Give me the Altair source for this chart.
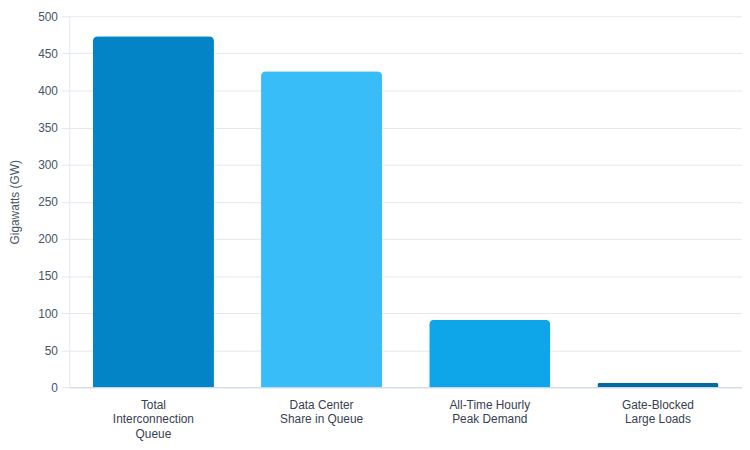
import altair as alt
import pandas as pd

categories = ["Total|Interconnection|Queue", "Data Center|Share in Queue", "All-Time Hourly|Peak Demand", "Gate-Blocked|Large Loads"]
values = [473, 426, 91, 6]
colors = ["#0284c7", "#38bdf8", "#0ea5e9", "#0369a1"]

df = pd.DataFrame({"category": categories, "value": values, "color": colors})

chart = alt.Chart(df).mark_bar(cornerRadiusTopLeft=5, cornerRadiusTopRight=5).encode(
    x=alt.X("category:N", sort=categories,
            scale=alt.Scale(paddingInner=0.28, paddingOuter=0.14),
            axis=alt.Axis(title=None, labelAngle=0, labelExpr="split(datum.label, '|')",
                          labelFont="Liberation Sans", labelFontSize=12, labelColor="#374151",
                          labelPadding=12, ticks=False, domainColor="#cbd5e1", grid=False,
                          labelLineHeight=15, labelOverlap=False)),
    y=alt.Y("value:Q", scale=alt.Scale(domain=[0, 500]),
            axis=alt.Axis(title="Gigawatts (GW)", titleFont="Liberation Sans", titleFontSize=12,
                          titleFontWeight="normal", titleColor="#475569",
                          labelFont="Liberation Sans", labelFontSize=12, labelColor="#475569",
                          values=list(range(0, 501, 50)), labelOverlap=False,
                          gridColor="#e2e8f0", domainColor="#e2e8f0", tickColor="#e2e8f0",
                          tickSize=8, labelPadding=4, titlePadding=16)),
    color=alt.Color("color:N", scale=None),
).properties(
    width=742, height=436,
    autosize=alt.AutoSizeParams(type="fit", contains="padding"),
    padding={"left": 0, "top": 0, "right": 0, "bottom": 2},
).configure_view(stroke=None)

chart.save("out.html", embed_options={"renderer": "svg", "actions": False})
